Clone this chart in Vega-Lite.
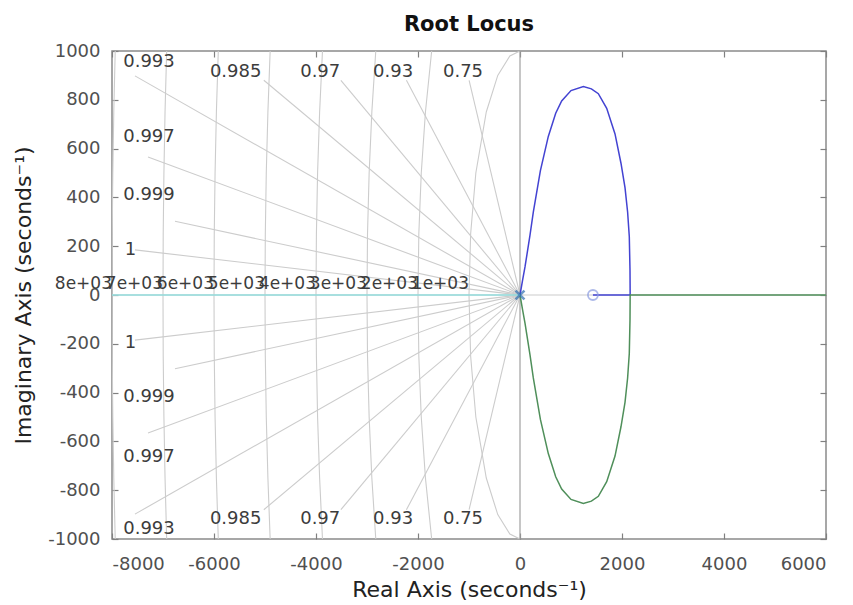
{
  "$schema": "https://vega.github.io/schema/vega-lite/v6.json",
  "width": 714,
  "height": 488,
  "autosize": {"type": "none"},
  "padding": {"left": 112, "top": 51, "right": 27, "bottom": 66},
  "background": "white",
  "title": {"text": "Root Locus", "fontSize": 21, "font": "DejaVu Sans", "fontWeight": "bold", "color": "#111111", "offset": 7, "anchor": "middle"},
  "config": {
    "view": {"stroke": "#8a8a8a", "strokeWidth": 1.5},
    "font": "DejaVu Sans",
    "axis": {"grid": false, "domain": false, "tickColor": "#808080", "tickWidth": 1.2, "labelColor": "#505050", "labelFont": "DejaVu Sans", "labelFontSize": 18, "titleFont": "DejaVu Sans", "titleFontSize": 22, "titleFontWeight": "normal", "titleColor": "#222222"}
  },
  "datasets": {
    "grid": [
      {"g": "h", "o": 0, "x": -8000, "y": 0}, {"g": "h", "o": 1, "x": 6000, "y": 0},
      {"g": "z1u", "o": 0, "x": 0, "y": 0}, {"g": "z1u", "o": 1, "x": -7550, "y": 185},
      {"g": "z2u", "o": 0, "x": 0, "y": 0}, {"g": "z2u", "o": 1, "x": -6765, "y": 302},
      {"g": "z3u", "o": 0, "x": 0, "y": 0}, {"g": "z3u", "o": 1, "x": -7294, "y": 566},
      {"g": "z4u", "o": 0, "x": 0, "y": 0}, {"g": "z4u", "o": 1, "x": -7550, "y": 898},
      {"g": "z5u", "o": 0, "x": 0, "y": 0}, {"g": "z5u", "o": 1, "x": -5023, "y": 880},
      {"g": "z6u", "o": 0, "x": 0, "y": 0}, {"g": "z6u", "o": 1, "x": -3512, "y": 880},
      {"g": "z7u", "o": 0, "x": 0, "y": 0}, {"g": "z7u", "o": 1, "x": -2227, "y": 880},
      {"g": "z8u", "o": 0, "x": 0, "y": 0}, {"g": "z8u", "o": 1, "x": -998, "y": 880},
      {"g": "z1l", "o": 0, "x": 0, "y": 0}, {"g": "z1l", "o": 1, "x": -7550, "y": -185},
      {"g": "z2l", "o": 0, "x": 0, "y": 0}, {"g": "z2l", "o": 1, "x": -6765, "y": -302},
      {"g": "z3l", "o": 0, "x": 0, "y": 0}, {"g": "z3l", "o": 1, "x": -7294, "y": -566},
      {"g": "z4l", "o": 0, "x": 0, "y": 0}, {"g": "z4l", "o": 1, "x": -7550, "y": -898},
      {"g": "z5l", "o": 0, "x": 0, "y": 0}, {"g": "z5l", "o": 1, "x": -5023, "y": -880},
      {"g": "z6l", "o": 0, "x": 0, "y": 0}, {"g": "z6l", "o": 1, "x": -3512, "y": -880},
      {"g": "z7l", "o": 0, "x": 0, "y": 0}, {"g": "z7l", "o": 1, "x": -2227, "y": -880},
      {"g": "z8l", "o": 0, "x": 0, "y": 0}, {"g": "z8l", "o": 1, "x": -998, "y": -880},
      {"g": "w1", "o": 0, "x": 0, "y": 1000}, {"g": "w1", "o": 1, "x": -199, "y": 980}, {"g": "w1", "o": 2, "x": -436, "y": 900}, {"g": "w1", "o": 3, "x": -661, "y": 750}, {"g": "w1", "o": 4, "x": -866, "y": 500}, {"g": "w1", "o": 5, "x": -968, "y": 250}, {"g": "w1", "o": 6, "x": -1000, "y": 0}, {"g": "w1", "o": 7, "x": -968, "y": -250}, {"g": "w1", "o": 8, "x": -866, "y": -500}, {"g": "w1", "o": 9, "x": -661, "y": -750}, {"g": "w1", "o": 10, "x": -436, "y": -900}, {"g": "w1", "o": 11, "x": -199, "y": -980}, {"g": "w1", "o": 12, "x": 0, "y": -1000},
      {"g": "w2", "o": 0, "x": -1732, "y": 1000}, {"g": "w2", "o": 1, "x": -1854, "y": 750}, {"g": "w2", "o": 2, "x": -1936, "y": 500}, {"g": "w2", "o": 3, "x": -1984, "y": 250}, {"g": "w2", "o": 4, "x": -2000, "y": 0}, {"g": "w2", "o": 5, "x": -1984, "y": -250}, {"g": "w2", "o": 6, "x": -1936, "y": -500}, {"g": "w2", "o": 7, "x": -1854, "y": -750}, {"g": "w2", "o": 8, "x": -1732, "y": -1000},
      {"g": "w3", "o": 0, "x": -2828, "y": 1000}, {"g": "w3", "o": 1, "x": -2905, "y": 750}, {"g": "w3", "o": 2, "x": -2958, "y": 500}, {"g": "w3", "o": 3, "x": -2990, "y": 250}, {"g": "w3", "o": 4, "x": -3000, "y": 0}, {"g": "w3", "o": 5, "x": -2990, "y": -250}, {"g": "w3", "o": 6, "x": -2958, "y": -500}, {"g": "w3", "o": 7, "x": -2905, "y": -750}, {"g": "w3", "o": 8, "x": -2828, "y": -1000},
      {"g": "w4", "o": 0, "x": -3873, "y": 1000}, {"g": "w4", "o": 1, "x": -3929, "y": 750}, {"g": "w4", "o": 2, "x": -3969, "y": 500}, {"g": "w4", "o": 3, "x": -3992, "y": 250}, {"g": "w4", "o": 4, "x": -4000, "y": 0}, {"g": "w4", "o": 5, "x": -3992, "y": -250}, {"g": "w4", "o": 6, "x": -3969, "y": -500}, {"g": "w4", "o": 7, "x": -3929, "y": -750}, {"g": "w4", "o": 8, "x": -3873, "y": -1000},
      {"g": "w5", "o": 0, "x": -4899, "y": 1000}, {"g": "w5", "o": 1, "x": -4943, "y": 750}, {"g": "w5", "o": 2, "x": -4975, "y": 500}, {"g": "w5", "o": 3, "x": -4994, "y": 250}, {"g": "w5", "o": 4, "x": -5000, "y": 0}, {"g": "w5", "o": 5, "x": -4994, "y": -250}, {"g": "w5", "o": 6, "x": -4975, "y": -500}, {"g": "w5", "o": 7, "x": -4943, "y": -750}, {"g": "w5", "o": 8, "x": -4899, "y": -1000},
      {"g": "w6", "o": 0, "x": -5916, "y": 1000}, {"g": "w6", "o": 1, "x": -5953, "y": 750}, {"g": "w6", "o": 2, "x": -5979, "y": 500}, {"g": "w6", "o": 3, "x": -5995, "y": 250}, {"g": "w6", "o": 4, "x": -6000, "y": 0}, {"g": "w6", "o": 5, "x": -5995, "y": -250}, {"g": "w6", "o": 6, "x": -5979, "y": -500}, {"g": "w6", "o": 7, "x": -5953, "y": -750}, {"g": "w6", "o": 8, "x": -5916, "y": -1000},
      {"g": "w7", "o": 0, "x": -6928, "y": 1000}, {"g": "w7", "o": 1, "x": -6960, "y": 750}, {"g": "w7", "o": 2, "x": -6982, "y": 500}, {"g": "w7", "o": 3, "x": -6996, "y": 250}, {"g": "w7", "o": 4, "x": -7000, "y": 0}, {"g": "w7", "o": 5, "x": -6996, "y": -250}, {"g": "w7", "o": 6, "x": -6982, "y": -500}, {"g": "w7", "o": 7, "x": -6960, "y": -750}, {"g": "w7", "o": 8, "x": -6928, "y": -1000},
      {"g": "w8", "o": 0, "x": -7937, "y": 1000}, {"g": "w8", "o": 1, "x": -7965, "y": 750}, {"g": "w8", "o": 2, "x": -7984, "y": 500}, {"g": "w8", "o": 3, "x": -7996, "y": 250}, {"g": "w8", "o": 4, "x": -8000, "y": 0}, {"g": "w8", "o": 5, "x": -7996, "y": -250}, {"g": "w8", "o": 6, "x": -7984, "y": -500}, {"g": "w8", "o": 7, "x": -7965, "y": -750}, {"g": "w8", "o": 8, "x": -7937, "y": -1000}
    ],
    "locus": [
      {"b": "b1", "o": 0, "x": 0, "y": 0}, {"b": "b1", "o": 1, "x": 50, "y": 60}, {"b": "b1", "o": 2, "x": 98, "y": 115}, {"b": "b1", "o": 3, "x": 196, "y": 245}, {"b": "b1", "o": 4, "x": 261, "y": 340}, {"b": "b1", "o": 5, "x": 400, "y": 510}, {"b": "b1", "o": 6, "x": 555, "y": 650}, {"b": "b1", "o": 7, "x": 700, "y": 745}, {"b": "b1", "o": 8, "x": 817, "y": 795}, {"b": "b1", "o": 9, "x": 1000, "y": 838}, {"b": "b1", "o": 10, "x": 1242, "y": 854}, {"b": "b1", "o": 11, "x": 1400, "y": 845}, {"b": "b1", "o": 12, "x": 1536, "y": 825}, {"b": "b1", "o": 13, "x": 1700, "y": 765}, {"b": "b1", "o": 14, "x": 1863, "y": 660}, {"b": "b1", "o": 15, "x": 1980, "y": 540}, {"b": "b1", "o": 16, "x": 2059, "y": 440}, {"b": "b1", "o": 17, "x": 2110, "y": 340}, {"b": "b1", "o": 18, "x": 2143, "y": 240}, {"b": "b1", "o": 19, "x": 2157, "y": 100}, {"b": "b1", "o": 20, "x": 2160, "y": 0}, {"b": "b1", "o": 21, "x": 1430, "y": 0},
      {"b": "b2", "o": 0, "x": 0, "y": 0}, {"b": "b2", "o": 1, "x": 50, "y": -60}, {"b": "b2", "o": 2, "x": 98, "y": -115}, {"b": "b2", "o": 3, "x": 196, "y": -245}, {"b": "b2", "o": 4, "x": 261, "y": -340}, {"b": "b2", "o": 5, "x": 400, "y": -510}, {"b": "b2", "o": 6, "x": 555, "y": -650}, {"b": "b2", "o": 7, "x": 700, "y": -745}, {"b": "b2", "o": 8, "x": 817, "y": -795}, {"b": "b2", "o": 9, "x": 1000, "y": -838}, {"b": "b2", "o": 10, "x": 1242, "y": -854}, {"b": "b2", "o": 11, "x": 1400, "y": -845}, {"b": "b2", "o": 12, "x": 1536, "y": -825}, {"b": "b2", "o": 13, "x": 1700, "y": -765}, {"b": "b2", "o": 14, "x": 1863, "y": -660}, {"b": "b2", "o": 15, "x": 1980, "y": -540}, {"b": "b2", "o": 16, "x": 2059, "y": -440}, {"b": "b2", "o": 17, "x": 2110, "y": -340}, {"b": "b2", "o": 18, "x": 2143, "y": -240}, {"b": "b2", "o": 19, "x": 2157, "y": -100}, {"b": "b2", "o": 20, "x": 2160, "y": 0}, {"b": "b2", "o": 21, "x": 6000, "y": 0},
      {"b": "b3", "o": 0, "x": 0, "y": 0}, {"b": "b3", "o": 1, "x": -8000, "y": 0}
    ],
    "zlabels": [
      {"t": "0.993", "x": -7780, "y": 955}, {"t": "0.985", "x": -6080, "y": 914}, {"t": "0.97", "x": -4310, "y": 914}, {"t": "0.93", "x": -2880, "y": 914}, {"t": "0.75", "x": -1510, "y": 914},
      {"t": "0.997", "x": -7780, "y": 648}, {"t": "0.999", "x": -7780, "y": 410}, {"t": "1", "x": -7750, "y": 186},
      {"t": "0.993", "x": -7780, "y": -960}, {"t": "0.985", "x": -6080, "y": -920}, {"t": "0.97", "x": -4310, "y": -920}, {"t": "0.93", "x": -2880, "y": -920}, {"t": "0.75", "x": -1510, "y": -920},
      {"t": "0.997", "x": -7780, "y": -662}, {"t": "0.999", "x": -7780, "y": -416}, {"t": "1", "x": -7750, "y": -196}
    ],
    "wlabels": [
      {"t": "8e+03", "x": -8000, "y": 45}, {"t": "7e+03", "x": -7000, "y": 45}, {"t": "6e+03", "x": -6000, "y": 45}, {"t": "5e+03", "x": -5000, "y": 45},
      {"t": "4e+03", "x": -4000, "y": 45}, {"t": "3e+03", "x": -3000, "y": 45}, {"t": "2e+03", "x": -2000, "y": 45}, {"t": "1e+03", "x": -1000, "y": 45}
    ],
    "zeros": [{"x": 1430, "y": 0}],
    "poles": [{"x": 0, "y": 0}],
    "vaxis": [{"x": 0, "y": -1000}, {"x": 0, "y": 1000}]
  },
  "resolve": {"axis": {"x": "independent", "y": "independent"}},
  "layer": [
    {
      "data": {"name": "grid"},
      "mark": {"type": "line", "color": "#cccccc", "strokeWidth": 1.1, "clip": true},
      "encoding": {
        "x": {"field": "x", "type": "quantitative", "scale": {"domain": [-8000, 6000], "nice": false, "zero": false},
              "axis": {"orient": "bottom", "values": [-8000, -6000, -4000, -2000, 0, 2000, 4000, 6000], "labelExpr": "datum.value + ''", "tickSize": -6, "labelPadding": 22, "title": "Real Axis (seconds⁻¹)", "titlePadding": 6}},
        "y": {"field": "y", "type": "quantitative", "scale": {"domain": [-1000, 1000], "nice": false, "zero": false},
              "axis": {"orient": "left", "values": [-1000, -800, -600, -400, -200, 0, 200, 400, 600, 800, 1000], "labelExpr": "datum.value + ''", "tickSize": -6, "labelPadding": 18, "title": "Imaginary Axis (seconds⁻¹)", "titlePadding": 12}},
        "detail": {"field": "g", "type": "nominal"},
        "order": {"field": "o", "type": "quantitative"}
      }
    },
    {
      "data": {"name": "vaxis"},
      "mark": {"type": "line", "color": "#a0a0a0", "strokeWidth": 1.2, "clip": true},
      "encoding": {
        "x": {"field": "x", "type": "quantitative", "scale": {"domain": [-8000, 6000], "nice": false, "zero": false}, "axis": null},
        "y": {"field": "y", "type": "quantitative", "scale": {"domain": [-1000, 1000], "nice": false, "zero": false}, "axis": null}
      }
    },
    {
      "data": {"name": "locus"},
      "mark": {"type": "line", "strokeWidth": 1.5, "clip": true},
      "encoding": {
        "x": {"field": "x", "type": "quantitative", "scale": {"domain": [-8000, 6000], "nice": false, "zero": false},
              "axis": {"orient": "top", "values": [-8000, -6000, -4000, -2000, 0, 2000, 4000, 6000], "tickSize": -6, "labels": false, "title": null}},
        "y": {"field": "y", "type": "quantitative", "scale": {"domain": [-1000, 1000], "nice": false, "zero": false},
              "axis": {"orient": "right", "values": [-1000, -800, -600, -400, -200, 0, 200, 400, 600, 800, 1000], "tickSize": -6, "labels": false, "title": null}},
        "color": {"field": "b", "type": "nominal", "scale": {"domain": ["b1", "b2", "b3"], "range": ["#4343d2", "#4f8f5a", "#93dcdc"]}, "legend": null},
        "order": {"field": "o", "type": "quantitative"}
      }
    },
    {
      "data": {"name": "zeros"},
      "mark": {"type": "point", "shape": "circle", "filled": false, "size": 100, "stroke": "#8a9be0", "strokeWidth": 1.8},
      "encoding": {
        "x": {"field": "x", "type": "quantitative", "scale": {"domain": [-8000, 6000], "nice": false, "zero": false}, "axis": null},
        "y": {"field": "y", "type": "quantitative", "scale": {"domain": [-1000, 1000], "nice": false, "zero": false}, "axis": null}
      }
    },
    {
      "data": {"name": "poles"},
      "mark": {"type": "point", "shape": "M-1,-1L1,1M1,-1L-1,1", "filled": false, "size": 80, "stroke": "#2f6fb0", "strokeWidth": 2.5},
      "encoding": {
        "x": {"field": "x", "type": "quantitative", "scale": {"domain": [-8000, 6000], "nice": false, "zero": false}, "axis": null},
        "y": {"field": "y", "type": "quantitative", "scale": {"domain": [-1000, 1000], "nice": false, "zero": false}, "axis": null}
      }
    },
    {
      "data": {"name": "zlabels"},
      "mark": {"type": "text", "align": "left", "baseline": "middle", "fontSize": 18, "font": "DejaVu Sans", "color": "#3c3c3c"},
      "encoding": {
        "x": {"field": "x", "type": "quantitative", "scale": {"domain": [-8000, 6000], "nice": false, "zero": false}, "axis": null},
        "y": {"field": "y", "type": "quantitative", "scale": {"domain": [-1000, 1000], "nice": false, "zero": false}, "axis": null},
        "text": {"field": "t", "type": "nominal"}
      }
    },
    {
      "data": {"name": "wlabels"},
      "mark": {"type": "text", "align": "right", "baseline": "middle", "fontSize": 17, "font": "DejaVu Sans", "color": "#3c3c3c"},
      "encoding": {
        "x": {"field": "x", "type": "quantitative", "scale": {"domain": [-8000, 6000], "nice": false, "zero": false}, "axis": null},
        "y": {"field": "y", "type": "quantitative", "scale": {"domain": [-1000, 1000], "nice": false, "zero": false}, "axis": null},
        "text": {"field": "t", "type": "nominal"}
      }
    }
  ]
}
